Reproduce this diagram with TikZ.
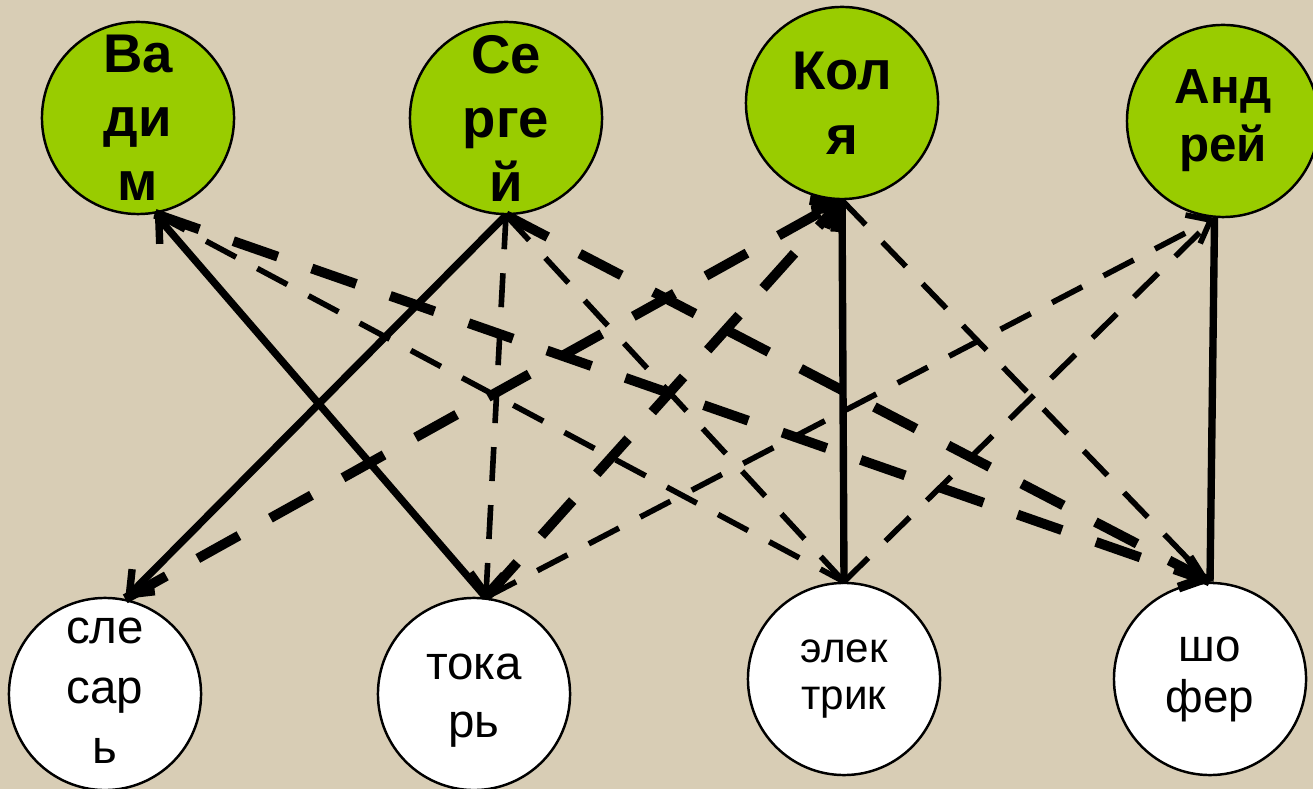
\documentclass[tikz,border=0pt]{standalone}
\usepackage{fontspec}
\setmainfont{Liberation Sans}
\usetikzlibrary{arrows.meta}
\definecolor{paper}{RGB}{216,205,181}
\definecolor{leaf}{RGB}{153,204,0}
\tikzset{
  person/.style={circle,draw=black,line width=0.7pt,fill=leaf,minimum size=1.92cm,inner sep=0pt},
  job/.style={circle,draw=black,line width=0.7pt,fill=white,minimum size=1.92cm,inner sep=0pt},
  nametext/.style={align=center,font=\bfseries\fontsize{15.5}{18.2}\selectfont},
  jobtext/.style={align=center,font=\fontsize{13.5}{17}\selectfont},
  match/.style={line width=2.1pt},
  nomatch/.style={line width=2.8pt,dash pattern=on 0.47cm off 0.36cm},
  maybe/.style={line width=1.6pt,dash pattern=on 0.34cm off 0.24cm},
  headto/.style={-{Straight Barb[length=2mm,width=3.2mm]}}
}
\begin{document}
\begin{tikzpicture}[x=0.01cm,y=-0.01cm]
    \path[use as bounding box,fill=paper] (0,0) rectangle (1313,789);

    % Boys
    \node[person] (vadim) at (138,118) {};
    \node[nametext] (vadimtext) at (vadim) {Ва\\ди\\м};
    \node[person] (sergey) at (506,118) {};
    \node[nametext] (sergeytext) at (sergey) {Се\\рге\\й};
    \node[person] (kolya) at (842,103) {};
    \node[nametext,font=\bfseries\fontsize{15.5}{18.5}\selectfont] (kolyatext) at (kolya) {Кол\\я};
    \node[person] (andrey) at (1223,121) {};
    \node[nametext,font=\bfseries\fontsize{14}{16.5}\selectfont] (andreytext) at (andrey) {Анд\\рей};

    % Jobs
    \node[job] (slesar) at (105,694) {};
    \node[jobtext] (slesartext) at ([yshift=1pt]slesar) {сле\\сар\\ь};
    \node[job] (tokar) at (474,694) {};
    \node[jobtext,font=\fontsize{13.5}{16.5}\selectfont] (tokartext) at ([yshift=-2pt]tokar) {тока\\рь};
    \node[job] (elektrik) at (844,679) {};
    \node[jobtext,font=\fontsize{12}{13.4}\selectfont] (elektriktext) at (elektrik) {элек\\трик};
    \node[job] (shofer) at (1210,679) {};
    \node[jobtext,font=\fontsize{13}{14.5}\selectfont] (shofertext) at (shofer) {шо\\фер};

    % Solid lines
    \draw[match,headto] (tokar.83) -- (vadim.-80);
    \draw[match,headto] (sergey.south) -- (slesar.78);
    \draw[match] (elektrik.north) -- (kolya.south);
    \draw[match] (shofer.north) -- (andrey.-95);

    % Thick dashed lines
    \draw[nomatch,headto] (vadim.-80) -- (shofer.north);
    \draw[nomatch] (sergey.south) -- (shofer.north);
    \draw[nomatch,headto] (slesar.78) -- (kolya.south);
    \draw[nomatch,headto] (tokar.83) -- (kolya.south);

    % Thin dashed lines
    \draw[maybe] (vadim.-80) -- (elektrik.north);
    \draw[maybe,headto] (sergey.south) -- (tokar.83);
    \draw[maybe] (sergey.south) -- (elektrik.north);
    \draw[maybe] (kolya.south) -- (shofer.north);
    \draw[maybe,headto] (tokar.83) -- (andrey.-95);
    \draw[maybe] (elektrik.north) -- (andrey.-95);
\end{tikzpicture}
\end{document}
